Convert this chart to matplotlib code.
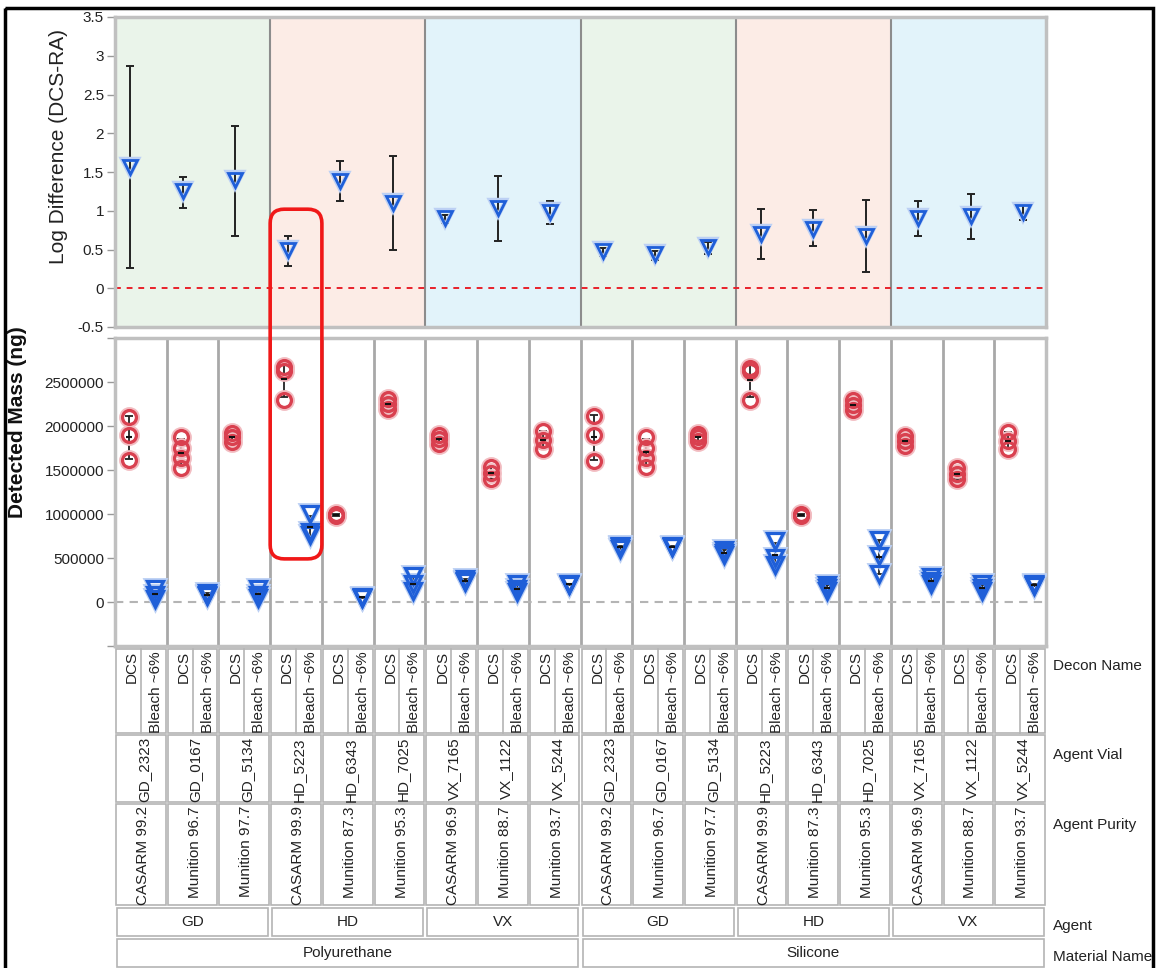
import numpy as np
import matplotlib
matplotlib.use('Agg')
import matplotlib.pyplot as plt
from matplotlib.patches import Rectangle, FancyBboxPatch

plt.rcParams['font.family'] = ['Liberation Sans', 'DejaVu Sans']

# ---- data ----
materials = ['Polyurethane', 'Silicone']
agents = ['GD', 'HD', 'VX']
vials = ['GD_2323', 'GD_0167', 'GD_5134', 'HD_5223', 'HD_6343', 'HD_7025',
         'VX_7165', 'VX_1122', 'VX_5244'] * 2
purity = ['CASARM 99.2', 'Munition 96.7', 'Munition 97.7', 'CASARM 99.9', 'Munition 87.3',
          'Munition 95.3', 'CASARM 96.9', 'Munition 88.7', 'Munition 93.7'] * 2
decons = ['DCS', 'Bleach ~6%']
row_names = ['Decon Name', 'Agent Vial', 'Agent Purity', 'Agent', 'Material Name']

log_mean = [1.57, 1.26, 1.40, 0.49, 1.39, 1.10, 0.91, 1.03, 0.98,
            0.48, 0.44, 0.53, 0.70, 0.77, 0.68, 0.91, 0.93, 0.99]
log_hi = [2.87, 1.44, 2.10, 0.67, 1.64, 1.71, 0.95, 1.45, 1.12,
          0.52, 0.48, 0.60, 1.02, 1.01, 1.14, 1.13, 1.21, 1.08]
log_lo = [0.26, 1.04, 0.67, 0.29, 1.13, 0.49, 0.84, 0.61, 0.83,
          0.42, 0.37, 0.44, 0.38, 0.54, 0.21, 0.67, 0.64, 0.88]

dcs_mass = [
    [2100000, 1900000, 1610000],
    [1880000, 1750000, 1640000, 1520000],
    [1920000, 1870000, 1820000],
    [2670000, 2630000, 2300000],
    [1000000, 990000, 980000],
    [2310000, 2250000, 2190000],
    [1900000, 1850000, 1800000],
    [1530000, 1470000, 1400000],
    [1940000, 1840000, 1740000],
    [2110000, 1900000, 1600000],
    [1880000, 1750000, 1640000, 1530000],
    [1910000, 1870000, 1830000],
    [2660000, 2620000, 2300000],
    [1000000, 990000, 980000],
    [2300000, 2240000, 2180000],
    [1890000, 1830000, 1770000],
    [1520000, 1460000, 1400000],
    [1930000, 1830000, 1740000],
]
bleach_mass = [
    [150000, 80000, 30000],
    [100000, 85000, 70000],
    [150000, 80000, 50000],
    [1000000, 790000, 760000],
    [60000, 50000, 45000],
    [290000, 200000, 120000],
    [260000, 240000, 230000],
    [200000, 150000, 110000],
    [210000, 200000, 190000],
    [640000, 620000, 600000],
    [640000, 630000, 620000],
    [590000, 560000, 530000],
    [690000, 500000, 420000],
    [190000, 160000, 130000],
    [700000, 520000, 320000],
    [280000, 240000, 200000],
    [200000, 160000, 130000],
    [200000, 190000, 185000],
]

# ---- layout (pixel boxes) ----
W, H = 1156, 968


def box(x0, y0, x1, y1):
    return [x0 / W, 1 - y1 / H, (x1 - x0) / W, (y1 - y0) / H]


red = '#d9404f'
blue = '#1f5fd8'
txt = '#222222'
grid_grey = '#a8a8a8'
frame_grey = '#c0c0c0'
bgs = ['#eaf4ea', '#fcece6', '#e2f3fa']

fig = plt.figure(figsize=(W / 100, H / 100), dpi=100)

ax_top = fig.add_axes(box(115, 17, 1046, 327))
ax_bot = fig.add_axes(box(115, 338, 1046, 646))
ax_tab = fig.add_axes(box(115, 646, 1046, 968))

n = len(vials)


def halo_plot(ax, x, y, mk, col, halo, ms, mew):
    # light outline under the marker, like JMP draws it
    ax.plot(x, y, mk, mfc='none', mec=halo, ms=ms + 1.5, mew=mew + 1.2, zorder=3)
    ax.plot(x, y, mk, mfc='none', mec=col, ms=ms, mew=mew, zorder=4)


# ---- top panel: log difference ----
for s in range(2 * len(agents)):
    ax_top.axvspan(3 * s, 3 * s + 3, color=bgs[s % 3], lw=0, zorder=0)
    if s > 0:
        ax_top.axvline(3 * s, color='#8c8c8c', lw=1.5, zorder=1)
ax_top.axhline(0, color='#e8212a', ls=(0, (3, 3)), lw=1.4, zorder=1)

# JMP spreads these a touch wider than the cells below
pos = 0.29 + np.arange(n) * (17.27 / 17)
mean = np.array(log_mean)
yerr = [mean - np.array(log_lo), np.array(log_hi) - mean]
ax_top.errorbar(pos, mean, yerr=yerr, fmt='none', ecolor='#222', elinewidth=1.4,
                capsize=3, capthick=1.4, zorder=2)
halo_plot(ax_top, pos, mean, 'v', blue, '#bcd0f4', 10.5, 2)

ax_top.set_xlim(0, 18)
ax_top.set_ylim(-0.5, 3.5)
yt = np.arange(-0.5, 3.51, 0.5)
ax_top.set_yticks(yt)
ax_top.set_yticklabels([f'{v:g}' for v in yt])
ax_top.set_xticks([])

# ---- bottom panel: detected mass ----
for i in range(1, n):
    ax_bot.axvline(i, color=grid_grey, lw=2, zorder=1)
ax_bot.axhline(0, color='#b4b4b4', ls=(0, (4, 3)), lw=1.5, zorder=1)

for i in range(n):
    for vals, off, mk, col, halo, ms in [
            (dcs_mass[i], 0.27, 'o', red, '#f2bcc1', 10),
            (bleach_mass[i], 0.77, 'v', blue, '#bcd0f4', 11.5)]:
        v = np.array(vals)
        x = i + off
        ax_bot.errorbar(x, v.mean(), yerr=v.std(ddof=1), fmt='none', ecolor='#222',
                        elinewidth=1.3, capsize=3, capthick=1.3, zorder=2)
        ax_bot.plot(x, v.mean(), marker='_', color='#111', ms=5, mew=1.5, zorder=5)
        halo_plot(ax_bot, [x] * len(v), v, mk, col, halo, ms, 2.3)

ax_bot.set_xlim(0, 18)
ax_bot.set_ylim(-500000, 3000000)
bt = np.arange(-500000, 3000001, 500000)
ax_bot.set_yticks(bt)
ax_bot.set_yticklabels(['' if (v < 0 or v > 2500000) else str(v) for v in bt])
ax_bot.set_xticks([])

for ax in (ax_top, ax_bot):
    for sp in ax.spines.values():
        sp.set_color(frame_grey)
        sp.set_linewidth(2.5)
    ax.tick_params(axis='y', length=6, width=1, color='#999999', labelsize=11,
                   labelcolor=txt, pad=2)

fig.text(58 / W, 1 - 147 / H, 'Log Difference (DCS-RA)', rotation=90, ha='center',
         va='center', fontsize=15, color=txt)
fig.text(18 / W, 1 - 422 / H, 'Detected Mass (ng)', rotation=90, ha='center',
         va='center', fontsize=15, fontweight='bold', color='#111')

# ---- label table under the chart ----
ax_tab.set_xlim(0, 18)
ax_tab.set_ylim(322, 0)
ax_tab.axis('off')
ec = '#b4b4b4'
rows = [(3, 87), (89, 156), (158, 259), (262, 290), (293, 321)]
for i in range(n):
    for (r0, r1) in rows[:3]:
        ax_tab.add_patch(Rectangle((i + 0.02, r0), 0.96, r1 - r0, fill=False, ec=ec, lw=1.2))
    ax_tab.plot([i + 0.5, i + 0.5], [rows[0][0], rows[0][1]], color=ec, lw=1.2)
    ax_tab.text(i + 0.33, rows[0][0] + 2, decons[0], rotation=90, ha='center', va='top',
                fontsize=11, color=txt)
    ax_tab.text(i + 0.79, rows[0][0] + 2, decons[1], rotation=90, ha='center', va='top',
                fontsize=11, color=txt)
    ax_tab.text(i + 0.56, rows[1][0] + 2, vials[i], rotation=90, ha='center', va='top',
                fontsize=11, color=txt)
    ax_tab.text(i + 0.54, rows[2][0] + 2, purity[i], rotation=90, ha='center', va='top',
                fontsize=11, color=txt)

for k in range(2 * len(agents)):
    r0, r1 = rows[3]
    ax_tab.add_patch(Rectangle((3 * k + 0.04, r0), 2.92, r1 - r0, fill=False, ec=ec, lw=1.2))
    ax_tab.text(3 * k + 1.5, (r0 + r1) / 2, agents[k % 3], ha='center', va='center',
                fontsize=11, color=txt)
for m in range(len(materials)):
    r0, r1 = rows[4]
    ax_tab.add_patch(Rectangle((9 * m + 0.04, r0), 8.92, r1 - r0, fill=False, ec=ec, lw=1.2))
    ax_tab.text(9 * m + 4.5, (r0 + r1) / 2, materials[m], ha='center', va='center',
                fontsize=11, color=txt)

for name, yc in zip(row_names, [666, 755, 825, 926, 957]):
    fig.text(1053 / W, 1 - yc / H, name, ha='left', va='center', fontsize=11, color=txt)

# ---- overlay in pixel units: outer frame and red highlight ----
ov = fig.add_axes([0, 0, 1, 1])
ov.set_xlim(0, W)
ov.set_ylim(H, 0)
ov.axis('off')
ov.patch.set_alpha(0)
ov.add_patch(Rectangle((5, 8), 1148, 990, fill=False, ec='black', lw=2.5, clip_on=False))


def to_px(ax, x, y):
    dx, dy = ax.transData.transform((x, y))
    return dx, H - dy


hl = 3  # HD_5223 on Polyurethane
x0, y0 = to_px(ax_top, hl, 1.02)
x1, y1 = to_px(ax_bot, hl + 1, 490000)
ov.add_patch(FancyBboxPatch((x0, y0), x1 - x0, y1 - y0,
                            boxstyle='round,pad=0,rounding_size=14',
                            fill=False, ec='#f01818', lw=2.6))

fig.savefig('out.png', dpi=100)
